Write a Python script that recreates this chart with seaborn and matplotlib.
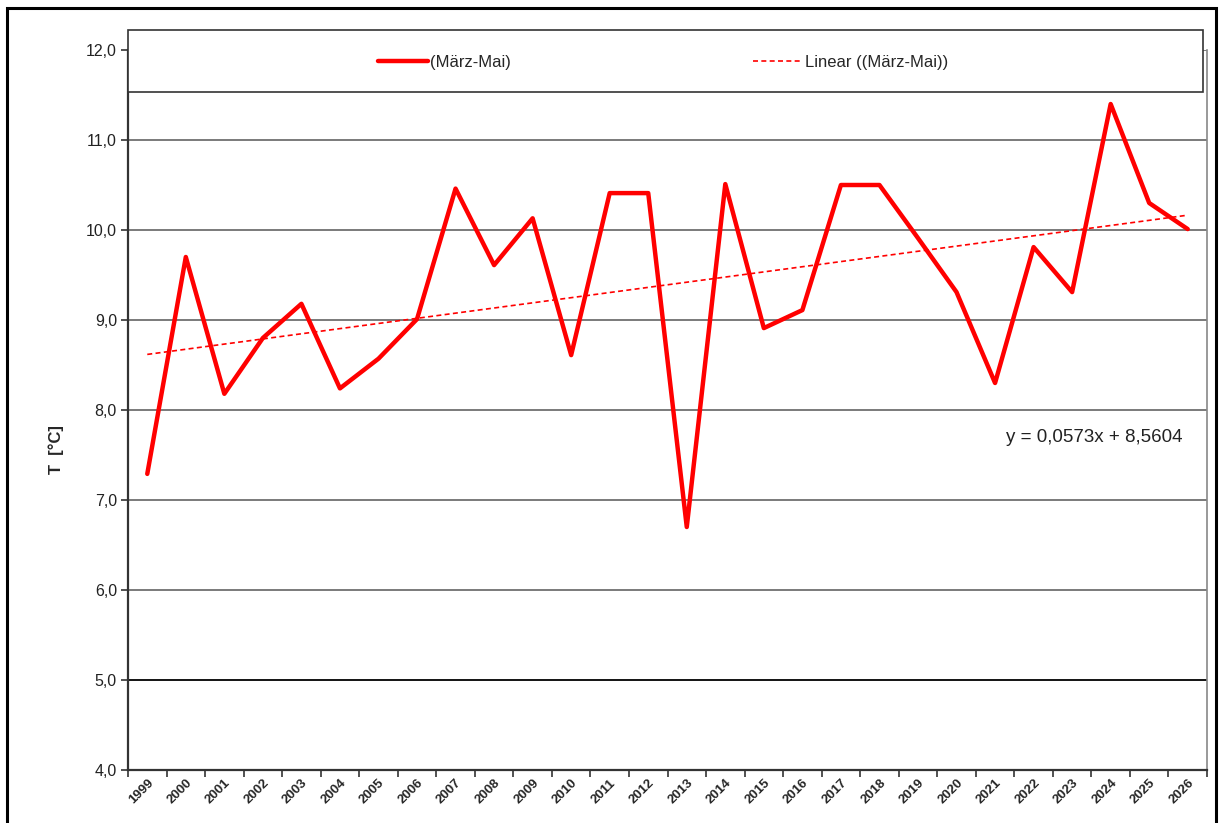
import matplotlib
matplotlib.use("Agg")
import matplotlib.pyplot as plt
from matplotlib.patches import Rectangle
from matplotlib.ticker import FixedLocator, FuncFormatter
import seaborn as sns
import numpy as np
import pandas as pd

# Frühjahrsmittel (März-Mai), Werte
years = [1999, 2000, 2001, 2002, 2003, 2004, 2005, 2006, 2007, 2008,
         2009, 2010, 2011, 2012, 2013, 2014, 2015, 2016, 2017, 2018,
         2019, 2020, 2021, 2022, 2023, 2024, 2025, 2026]
temps = [7.29, 9.70, 8.18, 8.80, 9.18, 8.24, 8.57, 9.01, 10.46, 9.61,
         10.13, 8.61, 10.41, 10.41, 6.70, 10.51, 8.91, 9.11, 10.50, 10.50,
         9.91, 9.31, 8.30, 9.81, 9.31, 11.40, 10.30, 10.01]
trend_slope = 0.0573
trend_intercept = 8.5604
y_ticks = [4, 5, 6, 7, 8, 9, 10, 11, 12]

df = pd.DataFrame({"pos": np.arange(len(years)), "year": years, "T": temps})
df["trend"] = trend_slope * (df["pos"] + 1) + trend_intercept

sns.set_style("white")
plt.rcParams["font.family"] = ["Liberation Sans", "DejaVu Sans"]

W, H = 1220, 823
fig = plt.figure(figsize=(W / 100, H / 100), dpi=100)
ax = fig.add_axes([128 / W, 1 - 770 / H, (1207 - 128) / W, 720 / H])

# Gitterlinien
for v in y_ticks[1:]:
    col = "black" if v == 5 else "#707070"
    ax.axhline(v, color=col, lw=1.3, zorder=1)

sns.lineplot(data=df, x="pos", y="T", ax=ax, color="#ff0000", lw=3.2,
             label="(März-Mai)", zorder=3, legend=False)
sns.lineplot(data=df, x="pos", y="trend", ax=ax, color="#ff0000", lw=1.2,
             linestyle=(0, (3, 2)), label="Linear ((März-Mai))", zorder=2,
             legend=False)

ax.set_xlim(-0.5, len(years) - 0.5)
ax.set_ylim(4, 12)
ax.set_yticks(y_ticks)
ax.yaxis.set_major_formatter(FuncFormatter(lambda v, p: f"{v:.1f}".replace(".", ",")))
ax.tick_params(axis="y", labelsize=11.5, length=5, width=1.2, color="#333333",
               direction="out", pad=3, left=True, labelcolor="#222222")

# Kategorieachse: Striche zwischen den Jahren, Beschriftung mittig
ax.xaxis.set_major_locator(FixedLocator(np.arange(len(years) + 1) - 0.5))
ax.xaxis.set_major_formatter(FuncFormatter(lambda v, p: ""))
ax.xaxis.set_minor_locator(FixedLocator(np.arange(len(years))))
ax.set_xticklabels([str(y) for y in years], minor=True)
ax.tick_params(axis="x", which="major", length=5, width=1.2, color="#333333",
               direction="out", bottom=True)
ax.tick_params(axis="x", which="minor", length=0, labelsize=9.5, pad=5)
for lab in ax.get_xticklabels(minor=True):
    lab.set_rotation(45)
    lab.set_ha("right")
    lab.set_va("top")
    lab.set_rotation_mode("anchor")
    lab.set_fontweight("bold")

ax.set_xlabel("")
ax.set_ylabel("T  [°C]", fontsize=12, fontweight="bold")
ax.yaxis.set_label_coords((64 - 128) / 1079, (770 - 450) / 720)

for s in ["left", "bottom"]:
    ax.spines[s].set_color("#333333")
    ax.spines[s].set_linewidth(1.6)
ax.spines["right"].set_color("#888888")
ax.spines["right"].set_linewidth(1.2)
ax.spines["top"].set_visible(False)

# Legendenkasten oben
box = Rectangle((128 / W, 1 - 92 / H), (1203 - 128) / W, 62 / H,
                transform=fig.transFigure, facecolor="white",
                edgecolor="#333333", lw=1.2, zorder=5)
fig.patches.append(box)
handles, labels = ax.get_legend_handles_labels()
leg = fig.legend(handles, labels, loc="center",
                 bbox_to_anchor=(663 / W, 1 - 62 / H), ncol=2, frameon=False,
                 fontsize=12, handlelength=3.0, handletextpad=0.15,
                 columnspacing=14.5)
leg.set_zorder(6)
leg.legend_handles[1].set_linewidth(1.2)

ax.text(1183 / W, 1 - 437 / H, "y = 0,0573x + 8,5604", transform=fig.transFigure,
        ha="right", va="center", fontsize=13.5, color="#222222")

# äußerer Rahmen
frame = Rectangle((7 / W, -0.05), (1216 - 7) / W, 1 - 8 / H + 0.05,
                  transform=fig.transFigure, fill=False, edgecolor="black",
                  lw=2.2, zorder=0)
fig.patches.append(frame)

fig.savefig("out.png", dpi=100)
